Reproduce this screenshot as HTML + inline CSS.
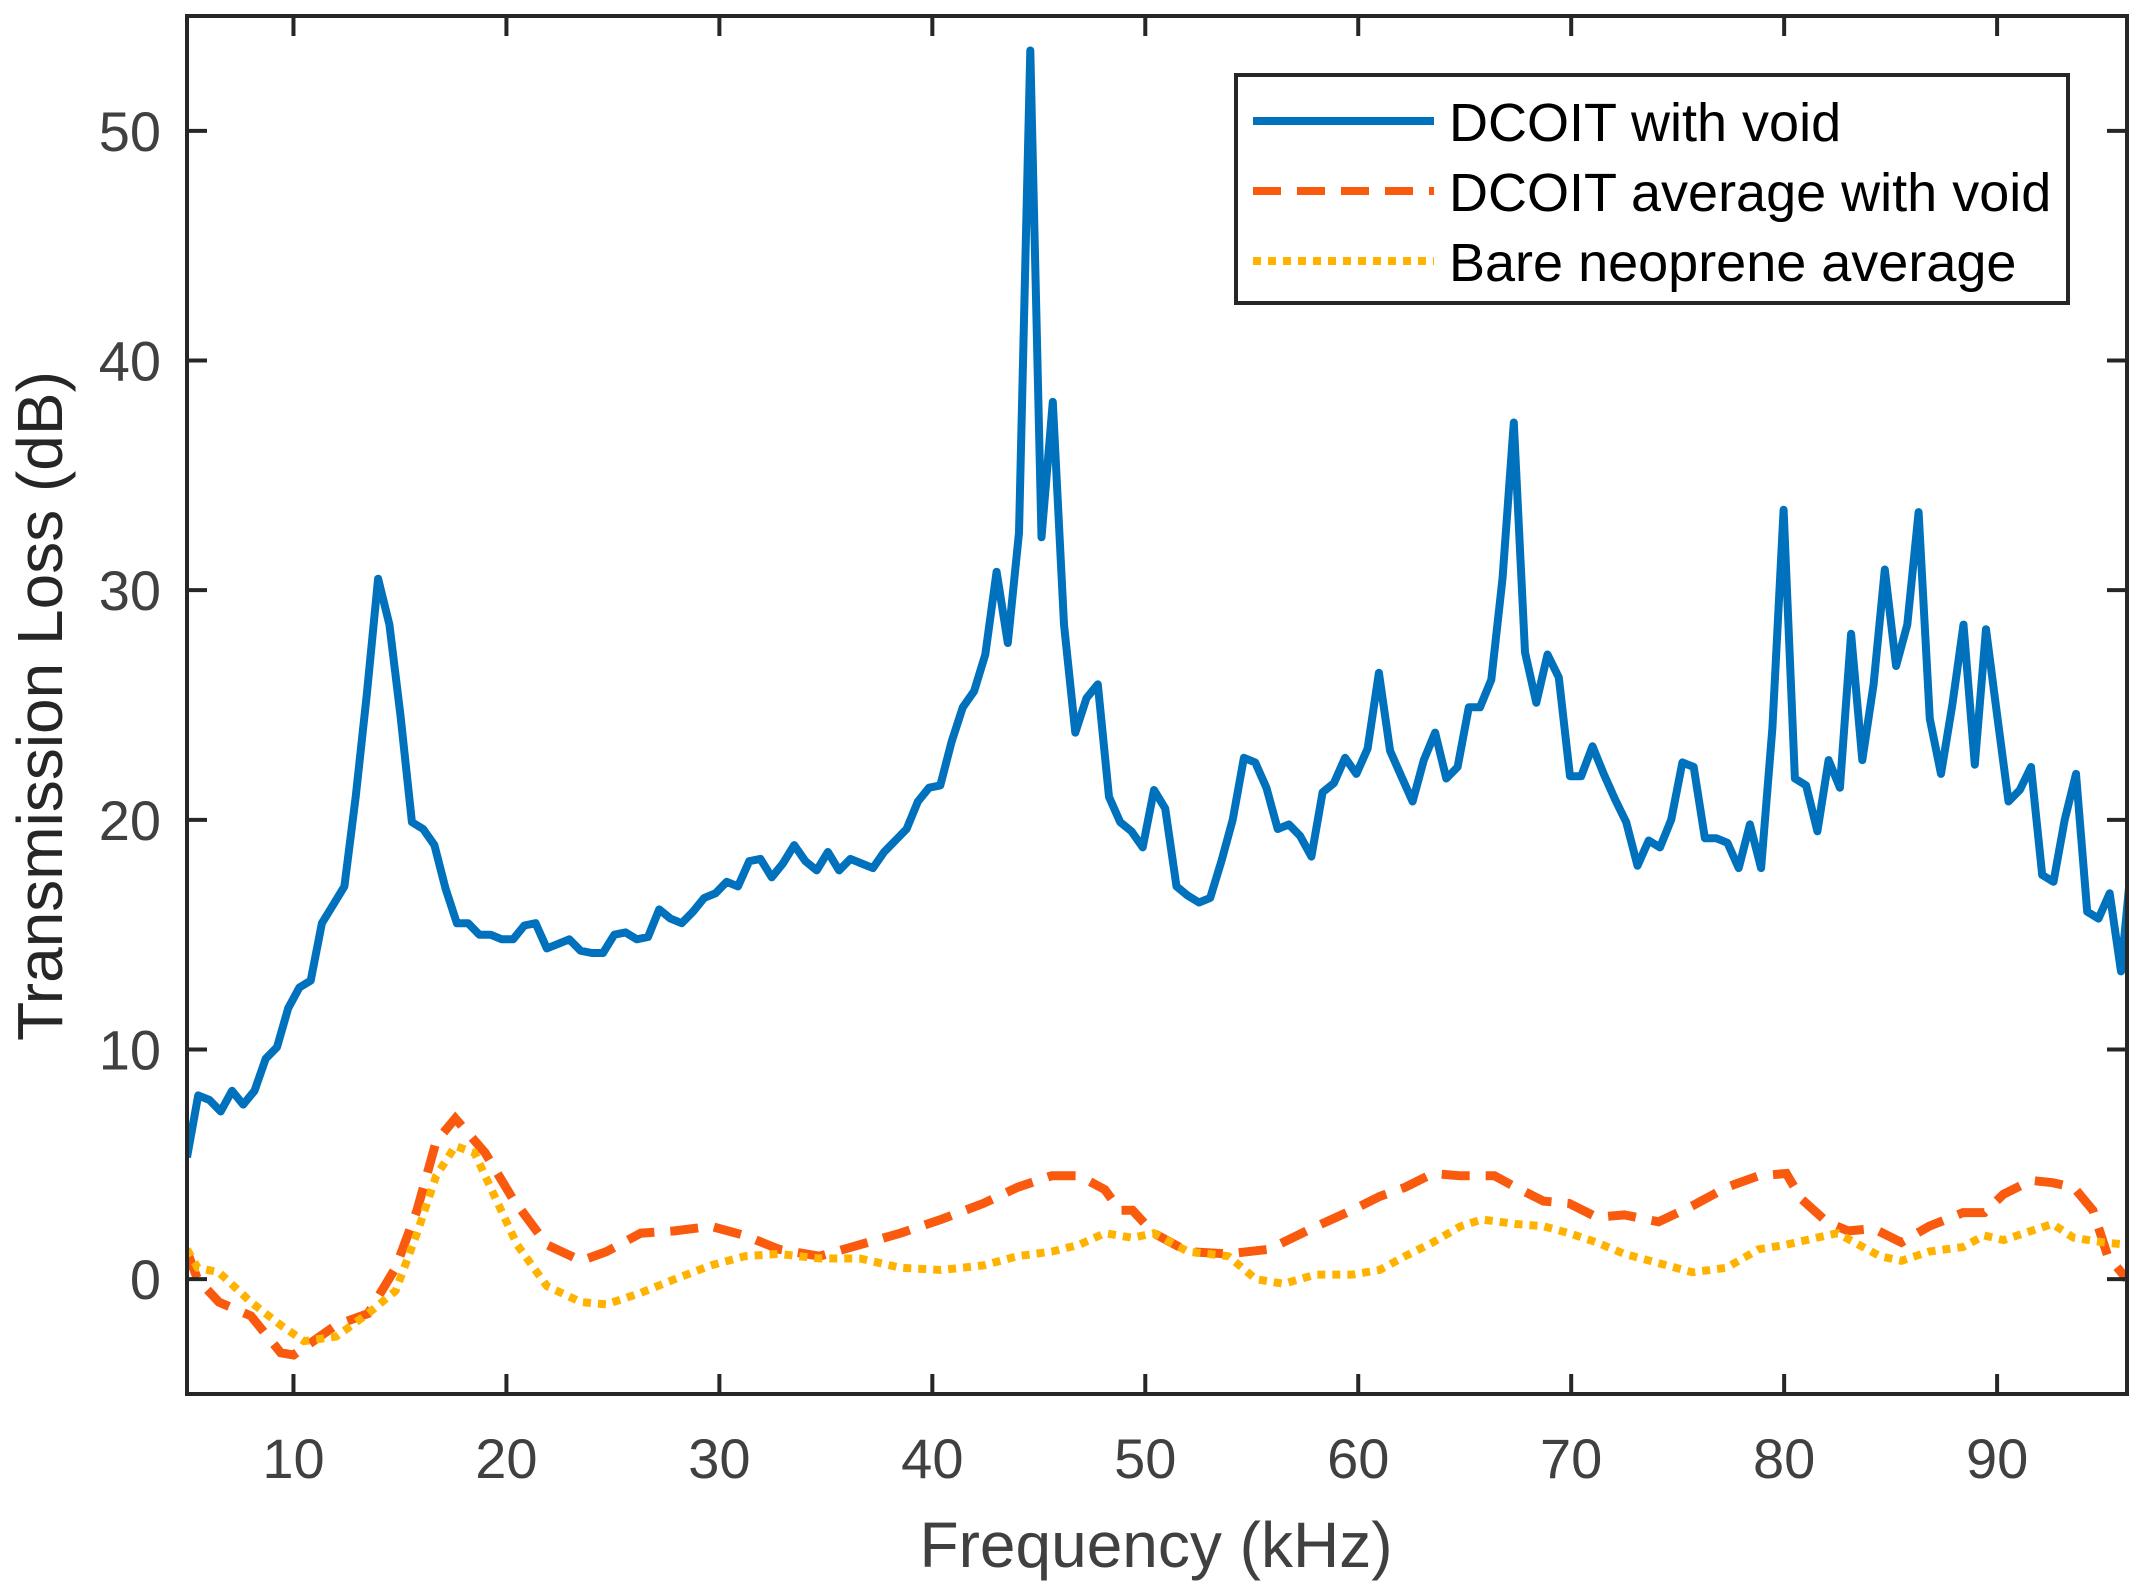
<!DOCTYPE html>
<html><head><meta charset="utf-8"><style>
html,body{margin:0;padding:0;background:#fff;}
svg{display:block;font-family:"Liberation Sans",Arial,sans-serif;}
</style></head><body>
<svg id="chart" width="2141" height="1590" viewBox="0 0 2141 1590" xmlns="http://www.w3.org/2000/svg">
<rect width="2141" height="1590" fill="#fff"/>
<g id="plot"></g>
</svg>
<script>
const xTicks=[10,20,30,40,50,60,70,80,90];
const yTicks=[0,10,20,30,40,50];
const freqStart=5.0, freqStep=0.528;
const dcoitVoid=[5.3,8,7.8,7.3,8.2,7.6,8.2,9.6,10.1,11.8,12.7,13,15.5,16.3,17.1,21,25.5,30.5,28.5,24.5,19.9,19.6,18.9,17,15.5,15.5,15,15,14.8,14.8,15.4,15.5,14.4,14.6,14.8,14.3,14.2,14.2,15,15.1,14.8,14.9,16.1,15.7,15.5,16,16.6,16.8,17.3,17.1,18.2,18.3,17.5,18.1,18.9,18.2,17.8,18.6,17.8,18.3,18.1,17.9,18.6,19.1,19.6,20.8,21.4,21.5,23.4,24.9,25.6,27.2,30.8,27.7,32.5,53.5,32.3,38.2,28.5,23.8,25.3,25.9,21,19.9,19.5,18.8,21.3,20.5,17.1,16.7,16.4,16.6,18.2,20,22.7,22.5,21.4,19.6,19.8,19.3,18.4,21.2,21.6,22.7,22,23.1,26.4,23,21.9,20.8,22.6,23.8,21.8,22.3,24.9,24.9,26.1,30.5,37.3,27.3,25.1,27.2,26.2,21.9,21.9,23.2,22,20.9,19.9,18,19.1,18.8,20,22.5,22.3,19.2,19.2,19,17.9,19.8,17.9,24,33.5,21.8,21.5,19.5,22.6,21.4,28.1,22.6,25.9,30.9,26.7,28.5,33.4,24.4,22,25,28.5,22.4,28.3,24.5,20.8,21.3,22.3,17.6,17.3,20,22,16,15.7,16.8,13.4,18.5];
const avgFreq=[5,5.5,6.5,8,9.4,10,12,13.5,14.8,15.8,16.7,17.6,19,20.3,21.9,23.5,24.7,26.3,27.9,29.6,31.2,32.8,34.7,36.6,38.5,40.4,42.4,44,45.6,46.9,48.1,48.8,49.4,50.4,52,53.9,55.8,57.8,59.7,61,62.2,63.5,64.8,66.4,67.4,68.7,69.9,71.2,72.5,74.1,75.7,77.3,78.8,80.1,80.8,82,83,84.2,85.5,86.8,88.4,89.4,90.3,91.6,92.6,93.6,94.5,95.2,96.1];
const avgVoid=[1.2,0,-1,-1.6,-3.2,-3.3,-2,-1.5,0.5,3,6,7,5.5,3.5,1.5,0.8,1.2,2,2.1,2.3,1.9,1.3,1,1.5,2,2.6,3.3,4,4.5,4.5,3.9,3,3,2,1.2,1.1,1.3,2.2,3,3.6,4,4.6,4.5,4.5,4,3.4,3.3,2.7,2.8,2.5,3.2,4,4.5,4.6,3.5,2.5,2.1,2.2,1.6,2.3,2.9,2.9,3.7,4.3,4.2,4,3,1,0];
const bareFreq=[5,5.5,6.5,8,9.4,10.5,12,13.5,14.8,15.8,16.7,17.6,18.5,19.5,20.5,21.9,23.5,24.7,26.3,27.9,29.6,31.2,32.8,34.7,36.6,38.5,40.4,42.4,44,45.6,46.9,48.1,49.4,50.4,52,53.9,55.2,56.5,58,59.7,61,62.2,63.5,64.8,65.8,67.4,68.7,69.9,71.2,72.5,74.1,75.7,77.3,78.8,80.1,81.5,82.5,83.5,84.5,85.5,86.8,88.4,89.4,90.3,91.6,92.6,93.6,95,96.1];
const bareAvg=[1.3,0.5,0.3,-1,-2,-2.7,-2.5,-1.5,-0.5,2,4.5,5.8,5.5,3.5,1.5,-0.3,-1,-1.1,-0.6,0,0.6,1,1.1,0.9,0.9,0.5,0.4,0.6,1,1.2,1.5,2,1.8,2,1.2,1,0,-0.2,0.2,0.2,0.4,1,1.6,2.3,2.6,2.4,2.3,2,1.6,1.1,0.7,0.3,0.5,1.3,1.5,1.8,2,1.5,1,0.8,1.2,1.4,1.9,1.7,2.1,2.4,1.8,1.6,1.5];

const L=187,R=2127,T=16,B=1394;
const xMin=5.0,xMax=96.1,yMin=-5,yMax=55;
const xs=f=>L+(f-xMin)/(xMax-xMin)*(R-L);
const ys=v=>B-(v-yMin)/(yMax-yMin)*(B-T);
const NS="http://www.w3.org/2000/svg";
const g=document.getElementById('plot');
function mk(tag,attrs,parent){const e=document.createElementNS(NS,tag);for(const k in attrs)e.setAttribute(k,attrs[k]);(parent||g).appendChild(e);return e;}

const defs=mk('defs',{});
const cp=mk('clipPath',{id:'clip'},defs);
mk('rect',{x:L,y:T,width:R-L,height:B-T},cp);

const lines=mk('g',{'clip-path':'url(#clip)'});


function path(fx,vals){return vals.map((v,i)=>(i?'L':'M')+xs(fx(i)).toFixed(1)+','+ys(v).toFixed(1)).join(' ');}

const p1=mk('path',{d:path(i=>freqStart+i*freqStep,dcoitVoid),fill:'none',stroke:'#0072BD','stroke-width':8,'stroke-linejoin':'round'},lines);


const p2=mk('path',{d:path(i=>avgFreq[i],avgVoid),fill:'none',stroke:'#F95A0E','stroke-width':9,'stroke-dasharray':'28 16'},lines);


const p3=mk('path',{d:path(i=>bareFreq[i],bareAvg),fill:'none',stroke:'#FFB300','stroke-width':8,'stroke-dasharray':'8 7'},lines);



const box=mk('rect',{x:L,y:T,width:R-L,height:B-T,fill:'none',stroke:'#262626','stroke-width':4});



xTicks.forEach(t=>{
  const x=xs(t);
  mk('line',{x1:x,y1:B,x2:x,y2:B-20,stroke:'#262626','stroke-width':4});
  mk('line',{x1:x,y1:T,x2:x,y2:T+20,stroke:'#262626','stroke-width':4});
  const tx=mk('text',{x:x,y:B+84,'text-anchor':'middle','font-size':56,fill:'#404040'});
  tx.textContent=t;
  
  
});
yTicks.forEach(t=>{
  const y=ys(t);
  mk('line',{x1:L,y1:y,x2:L+20,y2:y,stroke:'#262626','stroke-width':4});
  mk('line',{x1:R,y1:y,x2:R-20,y2:y,stroke:'#262626','stroke-width':4});
  const tx=mk('text',{x:L-26,y:y+20,'text-anchor':'end','font-size':56,fill:'#404040'});
  tx.textContent=t;
  
  
});
const xl=mk('text',{x:1156,y:1567,'text-anchor':'middle','font-size':64,fill:'#404040'});
xl.textContent='Frequency (kHz)';


const yl=mk('text',{x:0,y:0,'text-anchor':'middle','font-size':64,fill:'#262626',transform:'translate(62,706) rotate(-90)'});
yl.textContent='Transmission Loss (dB)';



const lg=mk('g',{});


mk('rect',{x:1236,y:75,width:832,height:228,fill:'#fff',stroke:'#262626','stroke-width':4},lg);
const entries=[['DCOIT with void','#0072BD','none'],['DCOIT average with void','#F95A0E','28 16'],['Bare neoprene average','#FFB300','8 7']];
entries.forEach((e,i)=>{
  const y=121+i*70;
  const ln=mk('line',{x1:1253,y1:y,x2:1434,y2:y,stroke:e[1],'stroke-width':8,'stroke-dasharray':e[2]},lg);
  
  
  const tx=mk('text',{x:1449,y:y+20,'font-size':54,fill:'#000'},lg);
  tx.textContent=e[0];
  
  
});
</script>
</body></html>
